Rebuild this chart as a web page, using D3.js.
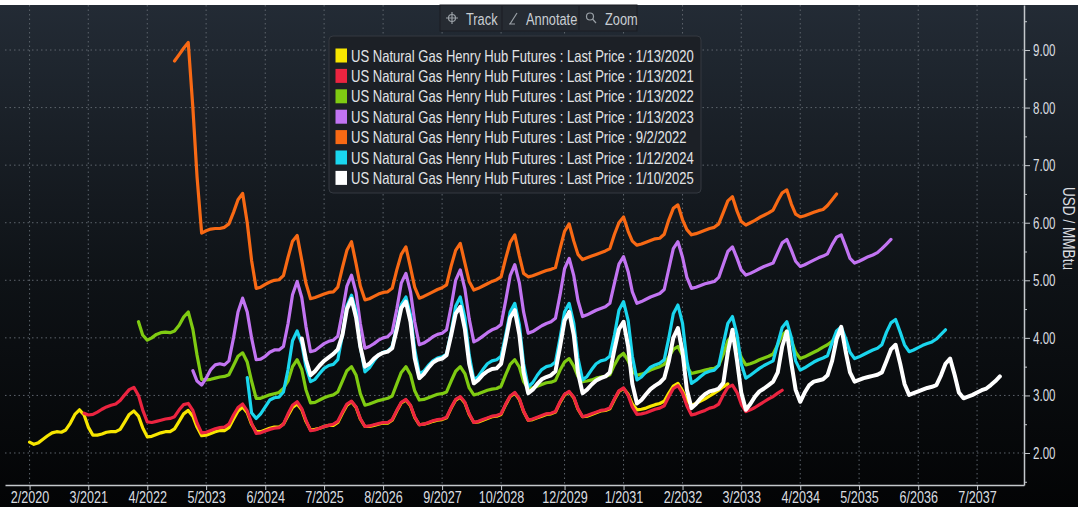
<!DOCTYPE html>
<html>
<head>
<meta charset="utf-8">
<script src="https://cdn.jsdelivr.net/npm/d3@7"></script>
<style>
body { margin: 0; background: #fff; }
svg { display: block; font-family: "Liberation Sans", Arial, sans-serif; }
</style>
</head>
<body>
<svg id="chart" width="1078" height="507"></svg>
<script>
// curve dates (legend) and first contract month of each curve
var seriesDates = ["1/13/2020", "1/13/2021", "1/13/2022", "1/13/2023", "9/2/2022", "1/12/2024", "1/10/2025"];
var seriesFirstMonth = ["2/2020", "2/2021", "2/2022", "2/2023", "10/2022", "2/2024", "2/2025"];

// monthly futures prices, one row per calendar year (Jan..Dec)
var curve20200113 = [
  2.19, 2.15, 2.18, 2.24, 2.30, 2.35, 2.37, 2.36, 2.40, 2.52, 2.67,
  2.75, 2.66, 2.45, 2.31, 2.31, 2.33, 2.36, 2.37, 2.37, 2.41, 2.54, 2.67,
  2.73, 2.64, 2.44, 2.28, 2.29, 2.32, 2.35, 2.37, 2.37, 2.42, 2.55, 2.68,
  2.74, 2.64, 2.45, 2.30, 2.31, 2.34, 2.37, 2.39, 2.39, 2.44, 2.59, 2.73,
  2.80, 2.70, 2.50, 2.37, 2.37, 2.40, 2.43, 2.45, 2.45, 2.50, 2.65, 2.79,
  2.85, 2.75, 2.55, 2.40, 2.41, 2.43, 2.46, 2.48, 2.48, 2.53, 2.69, 2.83,
  2.89, 2.79, 2.59, 2.46, 2.46, 2.48, 2.50, 2.52, 2.52, 2.57, 2.73, 2.87,
  2.92, 2.82, 2.62, 2.49, 2.50, 2.52, 2.55, 2.57, 2.58, 2.61, 2.78, 2.92,
  2.97, 2.87, 2.67, 2.53, 2.54, 2.57, 2.60, 2.63, 2.64, 2.67, 2.84, 2.98,
  3.04, 2.93, 2.72, 2.57, 2.58, 2.61, 2.64, 2.67, 2.68, 2.71, 2.88, 3.01,
  3.06, 2.96, 2.76, 2.63, 2.64, 2.67, 2.70, 2.73, 2.74, 2.77, 2.93, 3.07,
  3.12, 3.02, 2.85, 2.75, 2.76, 2.78, 2.81, 2.84, 2.86, 2.90, 3.04, 3.16,
  3.21, 3.08, 2.92, 2.83, 2.86, 2.90, 2.94, 2.99, 3.04, 3.09, 3.15, 3.20
];
var curve20210113 = [
  2.69, 2.66, 2.67, 2.71, 2.76, 2.80, 2.83, 2.85, 2.91, 3.01, 3.10,
  3.14, 3.00, 2.75, 2.54, 2.53, 2.55, 2.57, 2.59, 2.60, 2.63, 2.75, 2.84,
  2.86, 2.74, 2.52, 2.35, 2.36, 2.39, 2.42, 2.44, 2.45, 2.50, 2.66, 2.79,
  2.85, 2.73, 2.52, 2.34, 2.35, 2.38, 2.41, 2.43, 2.44, 2.50, 2.68, 2.83,
  2.89, 2.77, 2.57, 2.39, 2.40, 2.43, 2.46, 2.48, 2.50, 2.55, 2.71, 2.85,
  2.90, 2.80, 2.60, 2.46, 2.47, 2.49, 2.51, 2.53, 2.53, 2.58, 2.74, 2.88,
  2.93, 2.83, 2.63, 2.49, 2.50, 2.53, 2.56, 2.58, 2.59, 2.62, 2.79, 2.93,
  2.98, 2.88, 2.68, 2.53, 2.55, 2.58, 2.61, 2.64, 2.65, 2.68, 2.85, 2.99,
  3.05, 2.94, 2.73, 2.57, 2.59, 2.62, 2.65, 2.68, 2.69, 2.72, 2.89, 3.02,
  3.07, 2.97, 2.77, 2.63, 2.65, 2.68, 2.71, 2.74, 2.75, 2.78, 2.94, 3.08,
  3.13, 3.00, 2.80, 2.67, 2.68, 2.70, 2.73, 2.76, 2.78, 2.82, 2.98, 3.12,
  3.17, 3.04, 2.82, 2.66, 2.68, 2.71, 2.74, 2.78, 2.80, 2.85, 3.01, 3.14,
  3.18, 3.05, 2.85, 2.72, 2.75, 2.79, 2.84, 2.89, 2.94, 2.98, 3.04, 3.09
];
var curve20220113 = [
  4.28, 4.05, 3.96, 4.00, 4.06, 4.09, 4.10, 4.09, 4.12, 4.22, 4.36,
  4.45, 4.15, 3.70, 3.28, 3.27, 3.28, 3.30, 3.32, 3.33, 3.36, 3.52, 3.68,
  3.74, 3.58, 3.25, 2.95, 2.95, 2.98, 3.01, 3.03, 3.05, 3.12, 3.25, 3.50,
  3.62, 3.45, 3.10, 2.87, 2.88, 2.92, 2.96, 2.99, 3.01, 3.06, 3.25, 3.43,
  3.50, 3.35, 3.03, 2.83, 2.85, 2.88, 2.91, 2.93, 2.95, 2.99, 3.20, 3.40,
  3.50, 3.36, 3.08, 2.92, 2.93, 2.96, 2.99, 3.02, 3.03, 3.06, 3.25, 3.42,
  3.50, 3.38, 3.13, 3.01, 3.03, 3.06, 3.09, 3.11, 3.12, 3.16, 3.36, 3.54,
  3.62, 3.49, 3.24, 3.12, 3.13, 3.16, 3.19, 3.22, 3.23, 3.26, 3.44, 3.58,
  3.64, 3.51, 3.33, 3.24, 3.25, 3.27, 3.30, 3.32, 3.33, 3.36, 3.53, 3.67,
  3.73, 3.60, 3.42, 3.35, 3.37, 3.40, 3.44, 3.47, 3.50, 3.54, 3.67, 3.80,
  3.85, 3.70, 3.50, 3.38, 3.40, 3.42, 3.44, 3.46, 3.47, 3.52, 3.72, 3.95,
  4.05, 3.88, 3.66, 3.53, 3.55, 3.58, 3.62, 3.65, 3.68, 3.72, 3.88, 4.05,
  4.12, 3.95, 3.75, 3.64, 3.67, 3.71, 3.75, 3.79, 3.84, 3.88, 3.94, 4.02
];
var curve20230113 = [
  3.43, 3.25, 3.18, 3.30, 3.45, 3.53, 3.55, 3.53, 3.60, 4.00, 4.45,
  4.69, 4.45, 4.00, 3.62, 3.63, 3.68, 3.75, 3.79, 3.79, 3.85, 4.25, 4.75,
  4.98, 4.70, 4.20, 3.76, 3.78, 3.84, 3.90, 3.94, 3.96, 4.03, 4.45, 4.90,
  5.09, 4.78, 4.25, 3.82, 3.85, 3.90, 3.96, 4.00, 4.02, 4.10, 4.50, 4.95,
  5.12, 4.80, 4.28, 3.88, 3.91, 3.96, 4.02, 4.06, 4.08, 4.14, 4.55, 5.00,
  5.18, 4.85, 4.33, 3.93, 3.97, 4.03, 4.09, 4.14, 4.17, 4.23, 4.65, 5.08,
  5.27, 4.95, 4.45, 4.08, 4.11, 4.16, 4.21, 4.25, 4.28, 4.34, 4.75, 5.20,
  5.38, 5.08, 4.65, 4.37, 4.40, 4.44, 4.48, 4.51, 4.54, 4.60, 4.95, 5.28,
  5.41, 5.15, 4.80, 4.60, 4.63, 4.67, 4.71, 4.74, 4.77, 4.84, 5.20, 5.55,
  5.67, 5.40, 5.05, 4.86, 4.88, 4.91, 4.94, 4.96, 4.98, 5.05, 5.28, 5.50,
  5.58, 5.38, 5.18, 5.09, 5.12, 5.16, 5.20, 5.24, 5.27, 5.30, 5.48, 5.65,
  5.71, 5.52, 5.33, 5.24, 5.27, 5.31, 5.35, 5.39, 5.42, 5.46, 5.62, 5.75,
  5.79, 5.58, 5.38, 5.30, 5.33, 5.37, 5.41, 5.44, 5.48, 5.55, 5.63, 5.71
];
var curve20220902 = [
  8.81, 8.92, 9.03,
  9.13, 8.00, 6.80, 5.82, 5.86, 5.89, 5.90, 5.90, 5.92, 5.98, 6.18, 6.40,
  6.51, 6.00, 5.35, 4.86, 4.88, 4.93, 4.97, 5.00, 5.01, 5.08, 5.40, 5.68,
  5.78, 5.35, 4.95, 4.68, 4.70, 4.73, 4.76, 4.79, 4.80, 4.88, 5.22, 5.52,
  5.67, 5.28, 4.90, 4.66, 4.68, 4.72, 4.76, 4.79, 4.80, 4.86, 5.18, 5.45,
  5.58, 5.22, 4.88, 4.69, 4.72, 4.76, 4.80, 4.84, 4.87, 4.92, 5.25, 5.52,
  5.64, 5.30, 4.98, 4.83, 4.86, 4.90, 4.94, 4.98, 5.01, 5.06, 5.38, 5.66,
  5.79, 5.42, 5.12, 5.06, 5.08, 5.11, 5.14, 5.17, 5.19, 5.22, 5.55, 5.85,
  5.98, 5.68, 5.45, 5.36, 5.39, 5.42, 5.45, 5.48, 5.51, 5.55, 5.80, 6.00,
  6.10, 5.85, 5.68, 5.61, 5.63, 5.66, 5.69, 5.72, 5.73, 5.80, 6.05, 6.25,
  6.31, 6.05, 5.88, 5.79, 5.81, 5.84, 5.87, 5.90, 5.92, 5.98, 6.18, 6.38,
  6.45, 6.20, 6.02, 5.96, 6.00, 6.04, 6.09, 6.13, 6.17, 6.22, 6.38, 6.52,
  6.57, 6.32, 6.15, 6.10, 6.12, 6.15, 6.18, 6.21, 6.23, 6.30, 6.40, 6.50
];
var curve20240112 = [
  3.31, 2.70, 2.60, 2.68, 2.80, 2.92, 2.96, 2.97, 3.06, 3.45, 3.95,
  4.12, 3.90, 3.50, 3.24, 3.28, 3.38, 3.47, 3.52, 3.54, 3.62, 4.05, 4.55,
  4.74, 4.45, 3.85, 3.41, 3.48, 3.60, 3.70, 3.75, 3.77, 3.85, 4.20, 4.58,
  4.71, 4.40, 3.80, 3.38, 3.42, 3.52, 3.60, 3.65, 3.67, 3.72, 4.10, 4.55,
  4.71, 4.35, 3.70, 3.27, 3.33, 3.45, 3.55, 3.60, 3.62, 3.68, 4.05, 4.45,
  4.60, 4.22, 3.55, 3.15, 3.22, 3.35, 3.45, 3.50, 3.52, 3.58, 4.00, 4.45,
  4.60, 4.25, 3.65, 3.27, 3.33, 3.45, 3.55, 3.60, 3.62, 3.68, 4.05, 4.48,
  4.63, 4.30, 3.68, 3.27, 3.32, 3.41, 3.49, 3.53, 3.56, 3.62, 4.00, 4.42,
  4.57, 4.25, 3.60, 3.21, 3.26, 3.33, 3.39, 3.42, 3.44, 3.52, 3.90, 4.25,
  4.37, 4.05, 3.55, 3.30, 3.35, 3.41, 3.47, 3.52, 3.56, 3.60, 3.90, 4.18,
  4.28, 4.00, 3.60, 3.44, 3.48, 3.53, 3.58, 3.62, 3.65, 3.69, 3.92, 4.12,
  4.19, 3.98, 3.75, 3.64, 3.67, 3.71, 3.75, 3.79, 3.82, 3.88, 4.10, 4.26,
  4.32, 4.10, 3.88, 3.76, 3.79, 3.83, 3.87, 3.90, 3.93, 3.98, 4.06, 4.14
];
var curve20250110 = [
  3.99, 3.62, 3.35, 3.42, 3.52, 3.60, 3.66, 3.72, 3.80, 4.05, 4.50,
  4.68, 4.35, 3.85, 3.50, 3.55, 3.64, 3.70, 3.74, 3.76, 3.82, 4.15, 4.52,
  4.63, 4.28, 3.65, 3.30, 3.37, 3.48, 3.57, 3.62, 3.64, 3.70, 4.05, 4.42,
  4.54, 4.15, 3.55, 3.21, 3.27, 3.36, 3.42, 3.46, 3.47, 3.55, 3.95, 4.35,
  4.48, 4.05, 3.40, 3.04, 3.10, 3.20, 3.28, 3.32, 3.35, 3.42, 3.85, 4.30,
  4.45, 4.05, 3.40, 3.04, 3.10, 3.19, 3.26, 3.30, 3.33, 3.40, 3.80, 4.15,
  4.28, 3.85, 3.20, 2.86, 2.92, 3.02, 3.11, 3.17, 3.22, 3.30, 3.60, 4.00,
  4.17, 3.75, 3.10, 2.78, 2.85, 2.95, 3.02, 3.07, 3.09, 3.12, 3.22, 3.75,
  4.14, 3.60, 3.05, 2.75, 2.85, 2.98, 3.07, 3.12, 3.18, 3.24, 3.40, 3.85,
  4.11, 3.55, 3.10, 2.89, 3.05, 3.18, 3.24, 3.26, 3.28, 3.35, 3.60, 3.98,
  4.19, 3.75, 3.40, 3.24, 3.27, 3.30, 3.32, 3.34, 3.36, 3.40, 3.60, 3.80,
  3.88, 3.55, 3.20, 3.01, 3.04, 3.07, 3.10, 3.13, 3.15, 3.18, 3.35, 3.55,
  3.64, 3.35, 3.05, 2.95, 2.98, 3.01, 3.05, 3.09, 3.12, 3.18, 3.25, 3.33
];
var seriesValues = [curve20200113, curve20210113, curve20220113, curve20230113,
                    curve20220902, curve20240112, curve20250110];

// axis ticks
var xTickLabels = ["2/2020", "3/2021", "4/2022", "5/2023", "6/2024", "7/2025", "8/2026", "9/2027",
                   "10/2028", "12/2029", "1/2031", "2/2032", "3/2033", "4/2034", "5/2035", "6/2036", "7/2037"];
var yTicks = [2, 3, 4, 5, 6, 7, 8, 9];
var yMinorTicks = [1.5, 2.5, 3.5, 4.5, 5.5, 6.5, 7.5, 8.5, 9.5];

var seriesColors = ["#f7e600", "#ec2440", "#7fcb12", "#c274f2", "#f86914", "#1ad6ee", "#ffffff"];

var W = 1078, H = 507;
var plotL = 5, plotR = 1024, plotT = 5, plotB = 485;

var svg = d3.select("#chart");
var parseMonth = d3.timeParse("%m/%Y");

// squeeze text horizontally, the terminal font is tall and narrow
function narrow(sel, f) {
    sel.each(function() {
        var w = this.getComputedTextLength();
        d3.select(this).attr("textLength", w * f).attr("lengthAdjust", "spacingAndGlyphs");
    });
}

// background
var grad = svg.append("defs").append("linearGradient")
    .attr("id", "bg").attr("x1", 0).attr("y1", 0).attr("x2", 0).attr("y2", 1);
grad.append("stop").attr("offset", "0%").attr("stop-color", "#232b35");
grad.append("stop").attr("offset", "55%").attr("stop-color", "#0e1216");
grad.append("stop").attr("offset", "100%").attr("stop-color", "#030405");
svg.append("rect").attr("width", W).attr("height", H).attr("fill", "#fff");
svg.append("rect").attr("y", plotT).attr("width", W).attr("height", H - plotT).attr("fill", "url(#bg)");

var x = d3.scaleTime()
    .domain([new Date(2019, 7, 20), new Date(2038, 4, 12)])
    .range([plotL, plotR]);
var y = d3.scaleLinear().domain([1.444, 9.782]).range([plotB, plotT]);
var tickDates = xTickLabels.map(function(t) { return parseMonth(t); });

// dotted grid
var grid = svg.append("g").attr("stroke", "#5d646c").attr("stroke-dasharray", "1.5,3");
grid.selectAll("line.h").data(yTicks).enter().append("line")
    .attr("x1", plotL).attr("x2", plotR)
    .attr("y1", function(d) { return y(d); }).attr("y2", function(d) { return y(d); });
grid.selectAll("line.v").data(tickDates).enter().append("line")
    .attr("y1", plotT).attr("y2", plotB)
    .attr("x1", function(d) { return x(d); }).attr("x2", function(d) { return x(d); });

// curves
var line = d3.line()
    .x(function(d) { return x(d.date); })
    .y(function(d) { return y(d.value); });

seriesValues.forEach(function(vals, i) {
    var start = parseMonth(seriesFirstMonth[i]);
    var pts = vals.map(function(v, k) { return { date: d3.timeMonth.offset(start, k), value: v }; });
    svg.append("path").datum(pts)
        .attr("d", line)
        .attr("fill", "none")
        .attr("stroke", seriesColors[i])
        .attr("stroke-width", i == 6 ? 4 : 3.2)
        .attr("stroke-linejoin", "round")
        .attr("stroke-linecap", "round");
});

// x axis
var xAxis = svg.append("g").attr("transform", "translate(0," + plotB + ")")
    .call(d3.axisBottom(x).tickValues(tickDates).tickFormat(d3.timeFormat("%-m/%Y"))
        .tickSize(5).tickPadding(1).tickSizeOuter(0));
xAxis.select(".domain").attr("stroke", "#c4c8cc").attr("stroke-width", 1.5);
xAxis.selectAll(".tick line").attr("stroke", "#c4c8cc");
xAxis.selectAll(".tick text").attr("fill", "#dadde0").style("font-size", "17px");
narrow(xAxis.selectAll(".tick text"), 0.74);

// y axis on the right
var yAxis = svg.append("g").attr("transform", "translate(" + plotR + ",0)")
    .call(d3.axisRight(y).tickValues(yTicks).tickFormat(d3.format(".2f"))
        .tickSize(6).tickPadding(3).tickSizeOuter(0));
yAxis.select(".domain").attr("stroke", "#c4c8cc").attr("stroke-width", 1.5);
yAxis.selectAll(".tick line").attr("stroke", "#c4c8cc");
yAxis.selectAll(".tick text").attr("fill", "#dadde0").style("font-size", "17px");
narrow(yAxis.selectAll(".tick text"), 0.68);
var yMinor = svg.append("g").attr("transform", "translate(" + plotR + ",0)")
    .call(d3.axisRight(y).tickValues(yMinorTicks).tickFormat("").tickSize(3).tickSizeOuter(0));
yMinor.select(".domain").remove();
yMinor.selectAll(".tick line").attr("stroke", "#c4c8cc");
svg.selectAll(".tick text").attr("font-family", null);

var yTitle = svg.append("text")
    .attr("transform", "translate(1063," + y(5.9) + ") rotate(90)")
    .attr("text-anchor", "middle")
    .attr("fill", "#dadde0")
    .style("font-size", "16px")
    .text("USD / MMBtu");
narrow(yTitle, 0.85);

// legend
var legend = svg.append("g");
legend.append("rect")
    .attr("x", 329).attr("y", 36).attr("width", 372).attr("height", 157).attr("rx", 4)
    .attr("fill", "#1c2026").attr("stroke", "#343940");
var items = legend.selectAll("g.item").data(seriesDates).enter().append("g")
    .attr("transform", function(d, i) { return "translate(0," + (55.5 + i * 20.4) + ")"; });
items.append("rect")
    .attr("x", 335.5).attr("y", -7).attr("width", 11.5).attr("height", 14)
    .attr("fill", function(d, i) { return seriesColors[i]; });
var legendText = items.append("text")
    .attr("x", 351).attr("y", 6)
    .attr("fill", "#e2e4e6")
    .style("font-size", "16.5px")
    .text(function(d) { return "US Natural Gas Henry Hub Futures : Last Price : " + d; });
narrow(legendText, 0.79);

// toolbar
var tb = svg.append("g");
tb.append("rect").attr("x", 440).attr("y", 5).attr("width", 197).attr("height", 26)
    .attr("fill", "#262b32").attr("stroke", "#1a1d22");
tb.selectAll("line.sep").data([502, 579]).enter().append("line")
    .attr("x1", function(d) { return d; }).attr("x2", function(d) { return d; })
    .attr("y1", 6).attr("y2", 30).attr("stroke", "#1a1d22");
var ic = tb.append("g").attr("stroke", "#9aa0a6").attr("fill", "none").attr("stroke-width", 1.2);
ic.append("circle").attr("cx", 452).attr("cy", 18).attr("r", 3.5);
ic.append("path").attr("d", "M452,12V24M446,18H458");
ic.append("path").attr("d", "M510,24L517,13M509,24H515");
ic.append("circle").attr("cx", 590).attr("cy", 16.5).attr("r", 3.5);
ic.append("path").attr("d", "M592.5,19L596,23");
var tbText = tb.selectAll("text.btn").data([["Track", 466], ["Annotate", 526], ["Zoom", 605]]).enter().append("text")
    .attr("x", function(d) { return d[1]; }).attr("y", 24.5)
    .attr("fill", "#c9ced3").style("font-size", "16px")
    .text(function(d) { return d[0]; });
narrow(tbText, 0.8);
</script>
</body>
</html>
